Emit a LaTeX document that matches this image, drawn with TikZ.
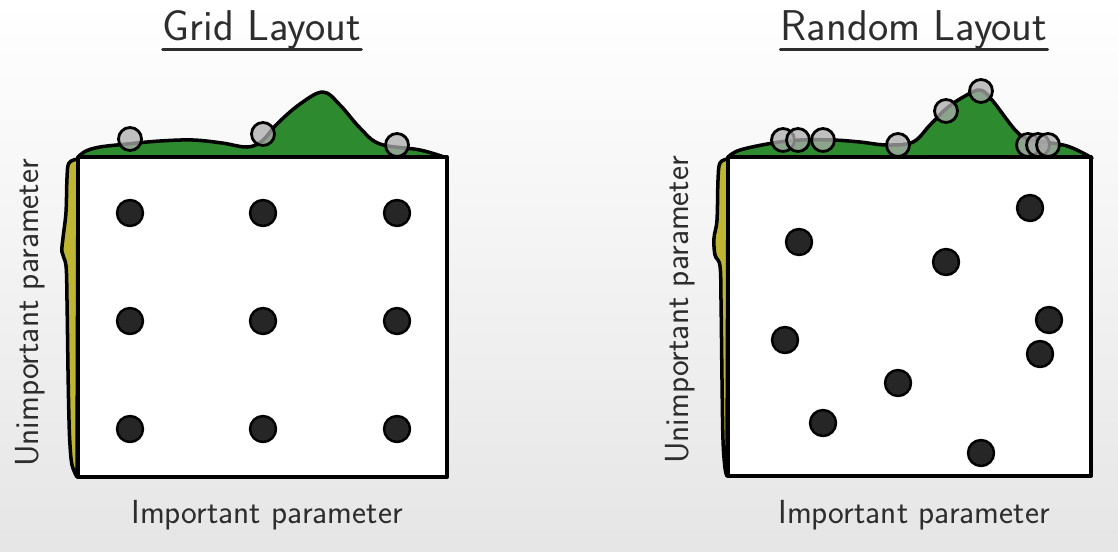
\documentclass[tikz,border=0pt]{standalone}
\usepackage{tikz}
\definecolor{peakgreen}{RGB}{46,138,46}
\definecolor{flatyellow}{RGB}{190,182,50}
\definecolor{inkgray}{RGB}{45,45,45}
\begin{document}
\begin{tikzpicture}[x=0.02cm, y=-0.02cm, line join=round, line cap=round, font=\sffamily,
	dot/.style={circle, draw=black, fill=black!85, line width=1.4pt, minimum size=0.52cm, inner sep=0pt},
	probe/.style={circle, draw=black, fill=gray!65, fill opacity=.75, line width=1.6pt, minimum size=0.46cm, inner sep=0pt},
	density/.style={draw=black, line width=2pt},
	title/.style={font=\fontsize{24.5}{28}\selectfont\sffamily, text=inkgray, inner sep=0pt},
	axislabel/.style={font=\fontsize{19}{22}\selectfont\sffamily, text=inkgray, inner sep=0pt}]
	\useasboundingbox (0,0) rectangle (1118,551);
	\shade[top color=white, middle color=white, bottom color=gray!20] (0,0) rectangle (1118,551);
	% grid layout
	\filldraw[density, fill=peakgreen] plot[smooth, tension=.6] coordinates {(78,157) (86,151) (100,147) (127,144) (160,141) (193,140) (222,143) (247,147) (262,141) (277,124) (300,104) (323,92) (340,105) (360,128) (380,144) (420,150) (447,158)} -- cycle;
	\filldraw[density, fill=flatyellow] plot[smooth, tension=.6] coordinates {(78,159) (69,163) (67,178) (66,212) (63,238) (62,252) (66,266) (67,300) (68,370) (69,420) (70,445) (72,465) (77,477)} -- cycle;
	\draw[line width=2.2pt, fill=white] (78,157) rectangle (447,477);
	\foreach \x [count=\i] in {130,263,397}
		\foreach \y [count=\j] in {213,321,429}
			\node[dot] (gd-\i-\j) at (\x,\y) {};
	\foreach \x/\y [count=\i] in {130/139, 263/134, 397/145}
		\node[probe] (gp-\i) at (\x,\y) {};
	\node[title] (gtitle) at (262,30) {Grid Layout};
	\draw[inkgray, line width=1.8pt] ([yshift=-5pt]gtitle.base west) -- ([yshift=-5pt]gtitle.base east);
	\node[axislabel] (gx) at (267,515) {Important parameter};
	\node[axislabel, rotate=90] (gy) at (30,313) {Unimportant parameter};
	% random layout
	\filldraw[density, fill=peakgreen] plot[smooth, tension=.6] coordinates {(728,157) (740,150) (773,143) (800,140) (833,140) (860,142) (887,145) (913,142) (930,125) (947,108) (965,96) (980,90) (992,100) (1017,132) (1033,140) (1067,146) (1092,158)} -- cycle;
	\filldraw[density, fill=flatyellow] plot[smooth, tension=.6] coordinates {(728,159) (720,163) (718,180) (717,220) (714,238) (715,255) (720,266) (721,300) (722,380) (723,440) (725,468) (727,476)} -- cycle;
	\draw[line width=2.2pt, fill=white] (728,157) rectangle (1091,476);
	\foreach \x/\y [count=\i] in {1030/208, 799/242, 946/262, 1049/320, 785/340, 1040/354, 898/383, 823/423, 981/453}
		\node[dot] (rd-\i) at (\x,\y) {};
	\foreach \x/\y [count=\i] in {783/140, 798/140, 823/140, 898/145, 946/111, 981/91, 1028/145, 1038/145, 1048/145}
		\node[probe] (rp-\i) at (\x,\y) {};
	\node[title] (rtitle) at (914,30) {Random Layout};
	\draw[inkgray, line width=1.8pt] ([yshift=-5pt]rtitle.base west) -- ([yshift=-5pt]rtitle.base east);
	\node[axislabel] (rx) at (914,515) {Important parameter};
	\node[axislabel, rotate=90] (ry) at (680,310) {Unimportant parameter};
\end{tikzpicture}
\end{document}
